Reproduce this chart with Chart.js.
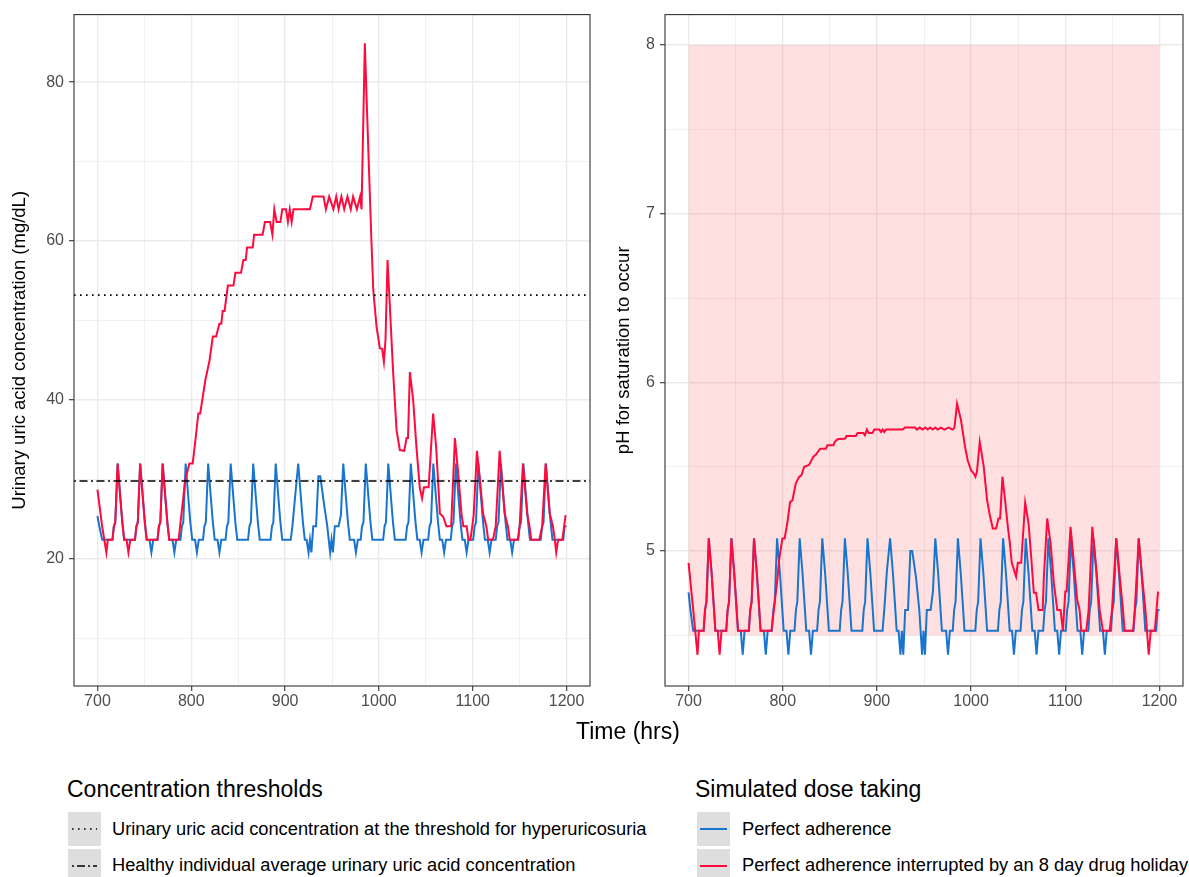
<!DOCTYPE html>
<html>
<head>
<meta charset="utf-8">
<script src="https://cdn.jsdelivr.net/npm/chart.js@4.4.1/dist/chart.umd.min.js"></script>
<style>
  body { margin: 0; width: 1189px; height: 877px; background: #fff; position: relative; overflow: hidden;
         font-family: "Liberation Sans", Arial, sans-serif; }
  canvas { position: absolute; top: 0; }
  #leftChart { left: 0; }
  #rightChart { left: 600px; }
  .txt { position: absolute; white-space: nowrap; color: #000; }
  .ttl { font-size: 23px; line-height: 26px; }
  .lab { font-size: 18.3px; line-height: 22px; }
  .key { position: absolute; width: 33px; height: 34px; background: #DEDEDE; }
  .key svg { display: block; }
</style>
</head>
<body>
<canvas id="leftChart" width="600" height="720"></canvas>
<canvas id="rightChart" width="589" height="720"></canvas>

<div class="txt" style="left:576px; top:718px; font-size:23px; line-height:26px;">Time (hrs)</div>

<div class="txt ttl" style="left:67px; top:776px;">Concentration thresholds</div>
<div class="key" style="left:68px; top:812px;">
  <svg width="33" height="34"><line x1="4" y1="17" x2="29" y2="17" stroke="#000" stroke-width="1.6" stroke-dasharray="1.6 4.4"/></svg>
</div>
<div class="txt lab" style="left:112px; top:818px;">Urinary uric acid concentration at the threshold for hyperuricosuria</div>
<div class="key" style="left:68px; top:849px;">
  <svg width="33" height="34"><line x1="4" y1="17" x2="29" y2="17" stroke="#000" stroke-width="1.6" stroke-dasharray="2 3 8 3"/></svg>
</div>
<div class="txt lab" style="left:112px; top:854px;">Healthy individual average urinary uric acid concentration</div>

<div class="txt ttl" style="left:695px; top:776px;">Simulated dose taking</div>
<div class="key" style="left:697px; top:812px;">
  <svg width="33" height="34"><line x1="3" y1="17" x2="30" y2="17" stroke="#1874CD" stroke-width="2"/></svg>
</div>
<div class="txt lab" style="left:742px; top:818px;">Perfect adherence</div>
<div class="key" style="left:697px; top:849px;">
  <svg width="33" height="34"><line x1="3" y1="17" x2="30" y2="17" stroke="#FF0A3C" stroke-width="2"/></svg>
</div>
<div class="txt lab" style="left:742px; top:854px;">Perfect adherence interrupted by an 8 day drug holiday</div>

<script>
// --- data ---
// x ticks (hours)
const xMajorTicks = [700, 800, 900, 1000, 1100, 1200];
const xMinorTicks = [750, 850, 950, 1050, 1150];
// left panel y ticks (mg/dL)
const concMajorTicks = [20, 40, 60, 80];
const concMinorTicks = [10, 30, 50, 70];
// right panel y ticks (pH)
const phMajorTicks = [5, 6, 7, 8];
const phMinorTicks = [4.5, 5.5, 6.5, 7.5];

// horizontal thresholds (mg/dL)
const hyperuricosuriaLevel = 53.2;
const healthyAverageLevel = 29.8;

// pink band on the pH panel
const bandTimes = [700, 1200];
const bandPH = [4.5, 8];

// perfect adherence: time (hrs)
const blueTime = [700,702,705,716,717.5,719,721.5,
  724.5,726.5,728.5,740,741.5,743,745.5,
  748.5,750.5,752.5,755.5,757.5,759.5,764,765.5,767,769.5,
  772.5,774.5,776.5,780,782,784,788.5,790,791.5,794,
  797,799,801,804,806,808,812.5,814,815.5,818,
  821,823,825,828,830,832,836.5,838,839.5,842,
  845,847,849,860.5,862,863.5,866,
  869,871,873,884.5,886,887.5,890,
  893,895,897,906,908,910.5,914,
  917,919,921,923,925,926.5,928,930,933,935.5,937.5,
  941.5,945,948,949.5,951,953,957,959.5,962,
  965,967,969,973.5,975.5,977.5,980.5,982,983.5,986,
  989,991,993,1004.5,1006,1007.5,1010,
  1013,1015,1017,1028.5,1030,1031.5,1034,
  1037,1039,1041,1043.5,1045.5,1047.5,1052.5,1054,1055.5,1058,
  1061,1063,1065,1067.5,1069.5,1071.5,1076.5,1078,1079.5,1082,
  1085,1087,1089,1091.5,1093.5,1095.5,1100.5,1102,1103.5,1106,
  1109,1111,1113,1116,1118,1120,1124.5,1126,1127.5,1130,
  1133,1135,1137,1140,1142,1144,1148.5,1150,1151.5,1154,
  1157,1159,1161,1172.5,1174,1175.5,1178,
  1181,1183,1185,1196.5,1198,1200];
// perfect adherence: urinary uric acid (mg/dL)
const blueConc = [25.4,24.1,22.4,22.4,24.1,24.6,32.0,
  27.5,24.6,22.4,22.4,24.1,24.6,32.0,
  27.5,24.6,22.4,22.4,20.8,22.4,22.4,24.1,24.6,32.0,
  27.5,24.6,22.4,22.4,20.8,22.4,22.4,24.1,24.6,32.0,
  27.5,24.6,22.4,22.4,20.8,22.4,22.4,24.1,24.6,32.0,
  27.5,24.6,22.4,22.4,20.8,22.4,22.4,24.1,24.6,32.0,
  27.5,24.6,22.4,22.4,24.1,24.6,32.0,
  27.5,24.6,22.4,22.4,24.1,24.6,32.0,
  27.5,24.6,22.4,22.4,24.3,27.6,32.0,
  27.5,24.6,22.4,22.4,20.8,22.4,20.8,24.1,24.1,30.4,30.4,
  26.9,24.1,20.8,22.4,20.8,24.1,24.1,25.5,32.0,
  27.5,24.6,22.4,22.4,20.8,22.4,22.4,24.1,24.6,32.0,
  27.5,24.6,22.4,22.4,24.1,24.6,32.0,
  27.5,24.6,22.4,22.4,24.1,24.6,32.0,
  27.5,24.6,22.4,22.4,20.8,22.4,22.4,24.1,24.6,32.0,
  27.5,24.6,22.4,22.4,20.8,22.4,22.4,24.1,24.6,32.0,
  27.5,24.6,22.4,22.4,20.8,22.4,22.4,24.1,24.6,32.0,
  27.5,24.6,22.4,22.4,20.8,22.4,22.4,24.1,24.6,32.0,
  27.5,24.6,22.4,22.4,20.8,22.4,22.4,24.1,24.6,32.0,
  27.5,24.6,22.4,22.4,24.1,24.6,32.0,
  27.5,24.6,22.4,22.4,24.1,24.1];
// perfect adherence: pH for saturation
const bluePH = [4.755,4.65,4.527,4.527,4.65,4.70,5.075,
  4.87,4.70,4.527,4.527,4.65,4.70,5.075,
  4.87,4.70,4.527,4.527,4.385,4.527,4.527,4.65,4.70,5.075,
  4.87,4.70,4.527,4.527,4.385,4.527,4.527,4.65,4.70,5.075,
  4.87,4.70,4.527,4.527,4.385,4.527,4.527,4.65,4.70,5.075,
  4.87,4.70,4.527,4.527,4.385,4.527,4.527,4.65,4.70,5.075,
  4.87,4.70,4.527,4.527,4.65,4.70,5.075,
  4.87,4.70,4.527,4.527,4.65,4.70,5.075,
  4.87,4.70,4.527,4.527,4.665,4.875,5.075,
  4.87,4.70,4.527,4.527,4.385,4.527,4.385,4.65,4.65,5.0,5.0,
  4.845,4.65,4.385,4.527,4.385,4.65,4.65,4.76,5.075,
  4.87,4.70,4.527,4.527,4.385,4.527,4.527,4.65,4.70,5.075,
  4.87,4.70,4.527,4.527,4.65,4.70,5.075,
  4.87,4.70,4.527,4.527,4.65,4.70,5.075,
  4.87,4.70,4.527,4.527,4.385,4.527,4.527,4.65,4.70,5.075,
  4.87,4.70,4.527,4.527,4.385,4.527,4.527,4.65,4.70,5.075,
  4.87,4.70,4.527,4.527,4.385,4.527,4.527,4.65,4.70,5.075,
  4.87,4.70,4.527,4.527,4.385,4.527,4.527,4.65,4.70,5.075,
  4.87,4.70,4.527,4.527,4.385,4.527,4.527,4.65,4.70,5.075,
  4.87,4.70,4.527,4.527,4.65,4.70,5.075,
  4.87,4.70,4.527,4.527,4.65,4.65];

// 8 day drug holiday: [time (hrs), urinary uric acid (mg/dL)]
const redConc = [
  [700,28.7],[705,24.1],[709.5,20.8],[711,22.4],[716,22.4],[717.5,24.1],[719,24.6],[721.5,32.0],
  [724.5,27.5],[726.5,24.6],[728.5,22.4],[731,22.4],[733,20.8],[735,22.4],[740,22.4],[741.5,24.1],[743,24.6],[745.5,32.0],
  [748.5,27.5],[750.5,24.6],[752.5,22.4],[764,22.4],[765.5,24.1],[767,24.6],[769.5,32.0],
  [772.5,27.5],[774.5,24.6],[776.5,22.4],[786.5,22.4],[793.5,29.9],[798,32.0],[801.5,32.0],
  [804.5,35.0],[807.5,38.3],[809.5,38.3],[815,42.5],[819.5,45.0],[823,48.0],[826.5,48.0],
  [830,49.6],[832,49.6],[833.5,51.2],[835.5,51.2],[839,54.4],[845,54.4],[847,56.0],[853,56.0],
  [855.5,57.6],[858,57.6],[859.5,59.2],[865.5,59.2],[867,60.8],[876,60.8],[878.5,62.4],[884,62.4],
  [886.5,60.8],[888.5,64.0],[891,62.4],[895,62.4],[897,64.0],[901,64.0],[903,62.4],[905,64.0],
  [907,62.4],[909,64.0],[926.5,64.0],[929.5,65.6],[941,65.6],[943.5,64.0],[947,65.6],[951.5,64.0],
  [954.5,65.6],[957,64.0],[960,65.6],[963,64.0],[966.5,65.6],[970,64.0],[972.5,65.6],[976.5,64.0],
  [980,65.6],[981.5,64.0],[985,84.9],[987,77.5],[990.4,65.6],[992,60.1],[994,53.8],[997.5,49.2],
  [1001,46.5],[1003.5,46.4],[1005.3,44.8],[1007,47.5],[1009.2,57.6],[1011.7,51.7],[1015.2,43.4],
  [1018.8,36.2],[1022.3,33.7],[1027,33.6],[1029.5,35.2],[1031,35.2],[1033,43.5],[1036.5,40.0],
  [1040,34.1],[1043.5,29.0],[1046,27.6],[1048,29.0],[1053,29.0],[1057.8,38.3],[1061,34.1],
  [1065,25.7],[1068.5,25.3],[1072,24.1],[1077,24.1],[1081,35.2],[1084.5,30.8],[1088,25.7],
  [1090,24.1],[1093.5,24.1],[1095.5,22.4],[1097.5,22.4],[1099.5,24.1],[1101,25.5],[1104.5,33.6],
  [1107.5,30.2],[1111,25.7],[1114.5,24.1],[1116.5,22.4],[1121.5,22.4],[1124.5,24.1],[1128.7,33.6],
  [1134,25.7],[1137.5,24.1],[1139.5,22.4],[1148,22.4],[1150,24.1],[1153.5,32.0],
  [1158,25.7],[1160.5,24.1],[1162.5,22.4],[1171,22.4],[1174,24.1],[1177.7,32.0],
  [1182,25.7],[1185.5,24.1],[1187.5,22.4],[1189,20.8],[1191,22.4],[1195.5,22.4],[1199,25.5]
];

// 8 day drug holiday: [time (hrs), pH for saturation]
const redPH = [
  [700,4.93],[705,4.65],[709.5,4.385],[711,4.527],[716,4.527],[717.5,4.65],[719,4.70],[721.5,5.075],
  [724.5,4.87],[726.5,4.70],[728.5,4.527],[731,4.527],[733,4.385],[735,4.527],[740,4.527],[741.5,4.65],[743,4.70],[745.5,5.075],
  [748.5,4.87],[750.5,4.70],[752.5,4.527],[764,4.527],[765.5,4.65],[767,4.70],[769.5,5.075],
  [772.5,4.87],[774.5,4.70],[776.5,4.527],[788,4.527],[794.3,4.83],[796,4.94],[799.6,5.075],[802,5.075],
  [805,5.17],[807.8,5.29],[810.3,5.30],[813.8,5.40],[817.4,5.44],[820,5.45],[822.7,5.50],[828,5.51],
  [829.8,5.53],[832.6,5.56],[835.1,5.57],[839.7,5.607],[845.7,5.607],[847.5,5.627],[853.9,5.627],
  [855.3,5.647],[858.2,5.663],[866.5,5.667],[867.5,5.682],[877.6,5.682],[879.4,5.70],[885.5,5.70],
  [887.2,5.686],[889.4,5.72],[891.2,5.70],[895.4,5.70],[897.2,5.72],[902.5,5.72],[904.3,5.706],
  [906,5.72],[907.8,5.706],[909.6,5.72],[927.3,5.72],[929.8,5.732],[940.4,5.732],[942.6,5.72],
  [945.5,5.732],[948.6,5.72],[951.2,5.732],[953.9,5.72],[956.5,5.732],[959.2,5.72],[962,5.732],
  [964.5,5.72],[968,5.732],[971.6,5.72],[976,5.732],[980.5,5.72],[982.3,5.732],[985.1,5.874],
  [989.3,5.775],[993.6,5.617],[996.4,5.538],[999.9,5.479],[1002.8,5.46],[1004.6,5.44],[1006.2,5.47],
  [1009.2,5.647],[1013.4,5.50],[1017,5.302],[1019.5,5.223],[1023,5.134],[1026.6,5.134],[1029,5.193],
  [1030.8,5.193],[1033.3,5.44],[1036.1,5.302],[1039,5.144],[1040.8,5.065],[1043.2,4.93],[1047.8,4.848],
  [1049.6,4.93],[1053.2,4.93],[1057.4,5.286],[1061,5.164],[1063.8,4.966],[1066.6,4.753],[1069,4.753],
  [1071.6,4.651],[1076,4.651],[1077.3,4.848],[1080.8,5.193],[1084.4,5.045],[1087.9,4.808],[1091.5,4.651],
  [1095,4.651],[1097.5,4.527],[1100,4.76],[1101.5,4.76],[1105.6,5.144],[1109.2,4.927],[1112.7,4.71],
  [1115.2,4.651],[1117,4.527],[1122.3,4.527],[1124.8,4.651],[1128.7,5.144],[1133,4.888],[1136.5,4.651],
  [1140,4.527],[1147.1,4.527],[1149.6,4.651],[1154.2,5.075],[1157.8,4.85],[1161.3,4.651],[1163.1,4.527],
  [1172,4.527],[1173.8,4.651],[1178,5.075],[1181.5,4.85],[1185.1,4.651],[1188.6,4.385],[1190.7,4.527],
  [1195,4.527],[1198.5,4.76]
];

// --- styling ---
const fontFamily = '"Liberation Sans", Arial, sans-serif';
const blueColor = '#1874CD';
const redColor = '#FF0A3C';

function gridFor(majors) {
  return {
    color: '#EBEBEB',
    lineWidth: c => (c.tick && majors.includes(c.tick.value)) ? 1.4 : 0.7,
    tickColor: c => (c.tick && majors.includes(c.tick.value)) ? '#333333' : 'rgba(0,0,0,0)',
    tickWidth: 1.1,
    tickLength: 5,
    drawTicks: true
  };
}

function ticksFor(majors, pad) {
  return {
    font: { family: fontFamily, size: 16 },
    color: '#4D4D4D',
    padding: pad,
    autoSkip: false,
    maxRotation: 0,
    callback: v => majors.includes(v) ? String(v) : ''
  };
}

function setTicks(majors, minors) {
  return scale => {
    scale.ticks = majors.concat(minors).sort((a, b) => a - b).map(v => ({ value: v }));
  };
}

const panelBorder = {
  id: 'panelBorder',
  afterDraw(chart) {
    const a = chart.chartArea, ctx = chart.ctx;
    ctx.save();
    ctx.strokeStyle = '#333333';
    ctx.lineWidth = 1.1;
    ctx.strokeRect(a.left, a.top, a.right - a.left, a.bottom - a.top);
    ctx.restore();
  }
};

const thresholdLines = {
  id: 'thresholdLines',
  afterDatasetsDraw(chart) {
    const a = chart.chartArea, ctx = chart.ctx, y = chart.scales.y;
    const lines = [
      { v: hyperuricosuriaLevel, dash: [1.6, 4.4] },
      { v: healthyAverageLevel, dash: [2, 3.5, 8, 3.5] }
    ];
    ctx.save();
    ctx.strokeStyle = '#000';
    ctx.lineWidth = 1.6;
    lines.forEach(l => {
      const py = y.getPixelForValue(l.v);
      ctx.setLineDash(l.dash);
      ctx.beginPath();
      ctx.moveTo(a.left, py);
      ctx.lineTo(a.right, py);
      ctx.stroke();
    });
    ctx.restore();
  }
};

function lineSet(points, color) {
  return {
    data: points,
    borderColor: color,
    borderWidth: 2,
    pointRadius: 0,
    tension: 0,
    fill: false
  };
}

function xScale() {
  return {
    type: 'linear',
    min: 675,
    max: 1225,
    afterBuildTicks: setTicks(xMajorTicks, xMinorTicks),
    afterFit: s => { s.height = 34; },
    grid: gridFor(xMajorTicks),
    border: { display: false },
    ticks: ticksFor(xMajorTicks, 1)
  };
}

const bluePoints = blueTime.map((t, i) => ({ x: t, y: blueConc[i] }));
const bluePHPoints = blueTime.map((t, i) => ({ x: t, y: bluePH[i] }));
const redPoints = redConc.map(p => ({ x: p[0], y: p[1] }));
const redPHPoints = redPH.map(p => ({ x: p[0], y: p[1] }));

new Chart(document.getElementById('leftChart'), {
  type: 'line',
  data: {
    datasets: [
      lineSet(redPoints, redColor),
      lineSet(bluePoints, blueColor)
    ]
  },
  options: {
    responsive: false,
    animation: false,
    devicePixelRatio: 1,
    layout: { padding: { top: 14, right: 10, left: 0, bottom: 0 } },
    plugins: { legend: { display: false }, tooltip: { enabled: false } },
    scales: {
      x: xScale(),
      y: {
        type: 'linear',
        min: 4,
        max: 88.5,
        afterBuildTicks: setTicks(concMajorTicks, concMinorTicks),
        afterFit: s => { s.width = 74; },
        grid: gridFor(concMajorTicks),
        border: { display: false },
        ticks: ticksFor(concMajorTicks, 5),
        title: {
          display: true,
          text: 'Urinary uric acid concentration (mg/dL)',
          color: '#000',
          font: { family: fontFamily, size: 18.5 },
          padding: { top: 9, bottom: 0 }
        }
      }
    }
  },
  plugins: [thresholdLines, panelBorder]
});

new Chart(document.getElementById('rightChart'), {
  type: 'line',
  data: {
    datasets: [
      lineSet(redPHPoints, redColor),
      lineSet(bluePHPoints, blueColor),
      {
        data: bandTimes.map(t => ({ x: t, y: bandPH[1] })),
        borderWidth: 0,
        pointRadius: 0,
        backgroundColor: 'rgba(255, 0, 0, 0.12)',
        fill: { value: bandPH[0] }
      }
    ]
  },
  options: {
    responsive: false,
    animation: false,
    devicePixelRatio: 1,
    layout: { padding: { top: 14, right: 6, left: 0, bottom: 0 } },
    plugins: { legend: { display: false }, tooltip: { enabled: false } },
    scales: {
      x: xScale(),
      y: {
        type: 'linear',
        min: 4.2,
        max: 8.18,
        afterBuildTicks: setTicks(phMajorTicks, phMinorTicks),
        afterFit: s => { s.width = 65; },
        grid: gridFor(phMajorTicks),
        border: { display: false },
        ticks: ticksFor(phMajorTicks, 5),
        title: {
          display: true,
          text: 'pH for saturation to occur',
          color: '#000',
          font: { family: fontFamily, size: 18.5 },
          padding: { top: 13, bottom: 0 }
        }
      }
    }
  },
  plugins: [panelBorder]
});
</script>
</body>
</html>
